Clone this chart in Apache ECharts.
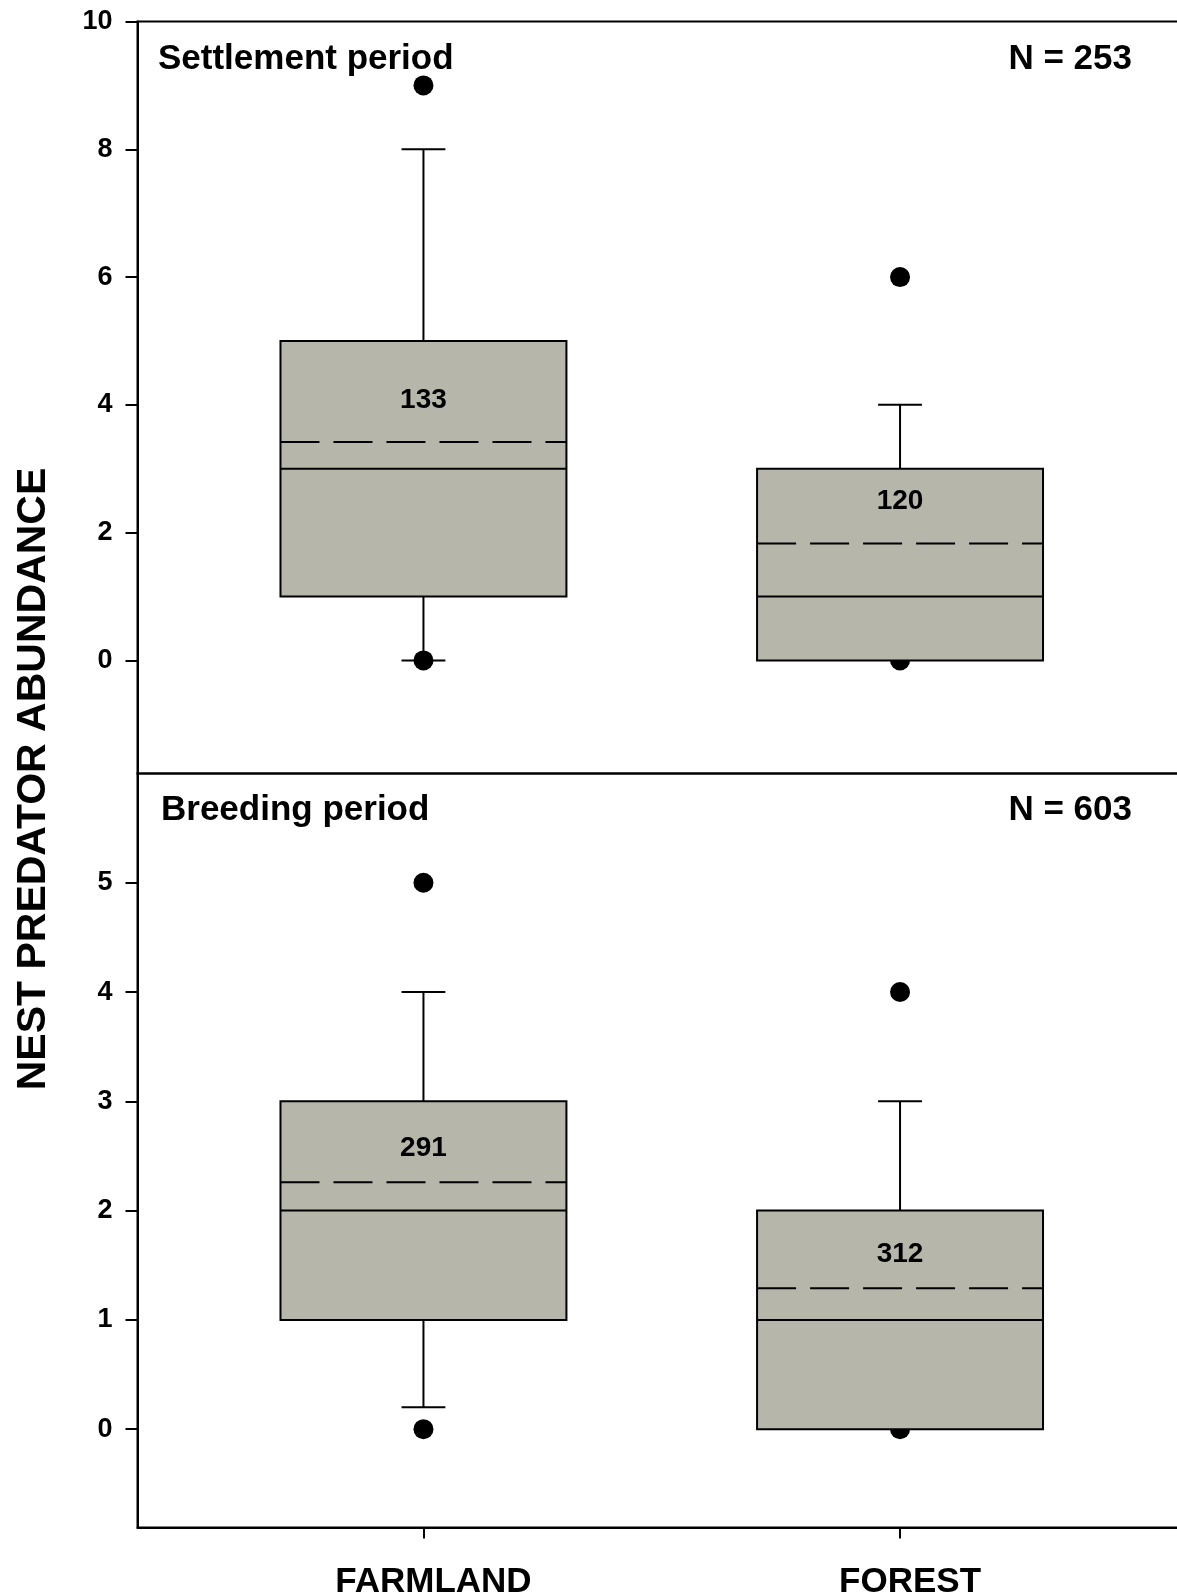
<!DOCTYPE html>
<html lang="en">
<head>
  <meta charset="UTF-8">
  <title>Nest predator abundance</title>
  <script src="https://cdn.jsdelivr.net/npm/echarts@6/dist/echarts.min.js"></script>
  <style>
    html, body { margin: 0; padding: 0; background: #fff; }
    #chart { width: 1177px; height: 1596px; }
  </style>
</head>
<body>
<div id="chart"></div>
<script>
  // categories and tick labels
  var categories = ['FARMLAND', 'FOREST'];
  var settleTicks = [0, 2, 4, 6, 8, 10];
  var breedTicks = [0, 1, 2, 3, 4, 5];

  // settlement period (top panel)
  var settleLow = [0, 0];
  var settleQ1 = [1, 0];
  var settleMedian = [3, 1];
  var settleQ3 = [5, 3];
  var settleHigh = [8, 4];
  var settleMean = [3.42, 1.83];
  var settleN = [133, 120];
  var settleOutliers = [[1, 9], [1, 0], [2, 6], [2, 0]];

  // breeding period (bottom panel)
  var breedLow = [0.2, 0];
  var breedQ1 = [1, 0];
  var breedMedian = [2, 1];
  var breedQ3 = [3, 2];
  var breedHigh = [4, 3];
  var breedMean = [2.26, 1.29];
  var breedN = [291, 312];
  var breedOutliers = [[1, 5], [1, 0], [2, 4], [2, 0]];

  var font = '"Liberation Sans", Arial, Helvetica, sans-serif';
  var chart = echarts.init(document.getElementById('chart'));

  function boxRows(low, q1, med, q3, high, mean, n) {
    return categories.map(function (c, i) {
      return [i + 1, low[i], q1[i], med[i], q3[i], high[i], mean[i], n[i]];
    });
  }

  function makeRender(labelOffset) {
    return function (params, api) {
      var x = api.value(0);
      var low = api.value(1), q1 = api.value(2), med = api.value(3);
      var q3 = api.value(4), high = api.value(5), mean = api.value(6);
      var n = api.value(7);
      var halfW = api.size([0.6, 0])[0] / 2;
      var capW = api.size([0.092, 0])[0] / 2;
      var cx = api.coord([x, 0])[0];
      var yLow = api.coord([x, low])[1];
      var yQ1 = api.coord([x, q1])[1];
      var yMed = api.coord([x, med])[1];
      var yQ3 = api.coord([x, q3])[1];
      var yHigh = api.coord([x, high])[1];
      var yMean = api.coord([x, mean])[1];
      var line = { stroke: '#000', lineWidth: 2 };
      var kids = [];
      if (high > q3) {
        kids.push({ type: 'line', shape: { x1: cx, y1: yQ3, x2: cx, y2: yHigh }, style: line });
        kids.push({ type: 'line', shape: { x1: cx - capW, y1: yHigh, x2: cx + capW, y2: yHigh }, style: line });
      }
      if (low < q1) {
        kids.push({ type: 'line', shape: { x1: cx, y1: yQ1, x2: cx, y2: yLow }, style: line });
        kids.push({ type: 'line', shape: { x1: cx - capW, y1: yLow, x2: cx + capW, y2: yLow }, style: line });
      }
      kids.push({
        type: 'rect',
        shape: { x: cx - halfW, y: yQ3, width: halfW * 2, height: yQ1 - yQ3 },
        style: { fill: '#b6b6aa', stroke: '#000', lineWidth: 2 }
      });
      kids.push({ type: 'line', shape: { x1: cx - halfW, y1: yMed, x2: cx + halfW, y2: yMed }, style: line });
      kids.push({
        type: 'line',
        shape: { x1: cx - halfW, y1: yMean, x2: cx + halfW, y2: yMean },
        style: { stroke: '#000', lineWidth: 2, lineDash: [39, 14] }
      });
      kids.push({
        type: 'text',
        x: cx, y: yMean - labelOffset,
        style: {
          text: String(n), fill: '#000', fontSize: 28, fontWeight: 'bold', fontFamily: font,
          align: 'center', verticalAlign: 'middle'
        }
      });
      return { type: 'group', children: kids };
    };
  }

  var tickLabel = { color: '#000', fontSize: 27, fontWeight: 'bold', fontFamily: font, margin: 25 };

  var option = {
    backgroundColor: '#fff',
    animation: false,
    grid: [
      { left: 137.5, top: 21.5, width: 1048.5, height: 752, show: true, borderColor: '#000', borderWidth: 2, outerBoundsMode: 'none', containLabel: false },
      { left: 137.5, top: 773.5, width: 1048.5, height: 754, show: true, borderColor: '#000', borderWidth: 2, outerBoundsMode: 'none', containLabel: false }
    ],
    xAxis: [
      {
        gridIndex: 0, type: 'value', min: 0.4, max: 2.6,
        axisLine: { show: false }, axisTick: { show: false }, axisLabel: { show: false }, splitLine: { show: false }
      },
      {
        gridIndex: 1, type: 'value', min: 0.4, max: 2.6,
        axisLine: { show: true, onZero: false, lineStyle: { color: '#000', width: 2 } },
        axisTick: { show: true, customValues: [1, 2], length: 11, lineStyle: { color: '#000', width: 2 } },
        axisLabel: {
          customValues: [1, 2],
          formatter: function (v) { return categories[Math.round(v) - 1]; },
          color: '#000', fontSize: 35, fontWeight: 'bold', fontFamily: font, margin: 37,
          padding: [0, 0, 0, 20]
        },
        splitLine: { show: false }
      }
    ],
    yAxis: [
      {
        gridIndex: 0, type: 'value', min: -1.77, max: 10,
        axisLine: { show: true, onZero: false, lineStyle: { color: '#000', width: 2 } },
        axisTick: { show: true, customValues: settleTicks, length: 12, lineStyle: { color: '#000', width: 2 } },
        axisLabel: Object.assign({ customValues: settleTicks }, tickLabel),
        splitLine: { show: false }
      },
      {
        gridIndex: 1, type: 'value', min: -0.9, max: 6,
        axisLine: { show: true, onZero: false, lineStyle: { color: '#000', width: 2 } },
        axisTick: { show: true, customValues: breedTicks, length: 12, lineStyle: { color: '#000', width: 2 } },
        axisLabel: Object.assign({ customValues: breedTicks }, tickLabel),
        splitLine: { show: false }
      }
    ],
    graphic: [
      { type: 'text', x: 158, y: 59, style: { text: 'Settlement period', fill: '#000', fontSize: 35, fontWeight: 'bold', fontFamily: font, align: 'left', verticalAlign: 'middle' } },
      { type: 'text', x: 1132, y: 59, style: { text: 'N = 253', fill: '#000', fontSize: 35, fontWeight: 'bold', fontFamily: font, align: 'right', verticalAlign: 'middle' } },
      { type: 'text', x: 161, y: 810, style: { text: 'Breeding period', fill: '#000', fontSize: 35, fontWeight: 'bold', fontFamily: font, align: 'left', verticalAlign: 'middle' } },
      { type: 'text', x: 1132, y: 810, style: { text: 'N = 603', fill: '#000', fontSize: 35, fontWeight: 'bold', fontFamily: font, align: 'right', verticalAlign: 'middle' } },
      { type: 'text', x: 34, y: 779, rotation: Math.PI / 2, style: { text: 'NEST PREDATOR ABUNDANCE', fill: '#000', fontSize: 41, fontWeight: 'bold', fontFamily: font, align: 'center', verticalAlign: 'middle' } }
    ],
    series: [
      {
        type: 'scatter', xAxisIndex: 0, yAxisIndex: 0, z: 1,
        symbol: 'circle', symbolSize: 20, itemStyle: { color: '#000', opacity: 1 }, data: settleOutliers
      },
      {
        type: 'scatter', xAxisIndex: 1, yAxisIndex: 1, z: 1,
        symbol: 'circle', symbolSize: 20, itemStyle: { color: '#000', opacity: 1 }, data: breedOutliers
      },
      {
        type: 'custom', xAxisIndex: 0, yAxisIndex: 0, z: 2,
        renderItem: makeRender(42),
        data: boxRows(settleLow, settleQ1, settleMedian, settleQ3, settleHigh, settleMean, settleN)
      },
      {
        type: 'custom', xAxisIndex: 1, yAxisIndex: 1, z: 2,
        renderItem: makeRender(34),
        data: boxRows(breedLow, breedQ1, breedMedian, breedQ3, breedHigh, breedMean, breedN)
      }
    ]
  };

  chart.setOption(option);
</script>
</body>
</html>
